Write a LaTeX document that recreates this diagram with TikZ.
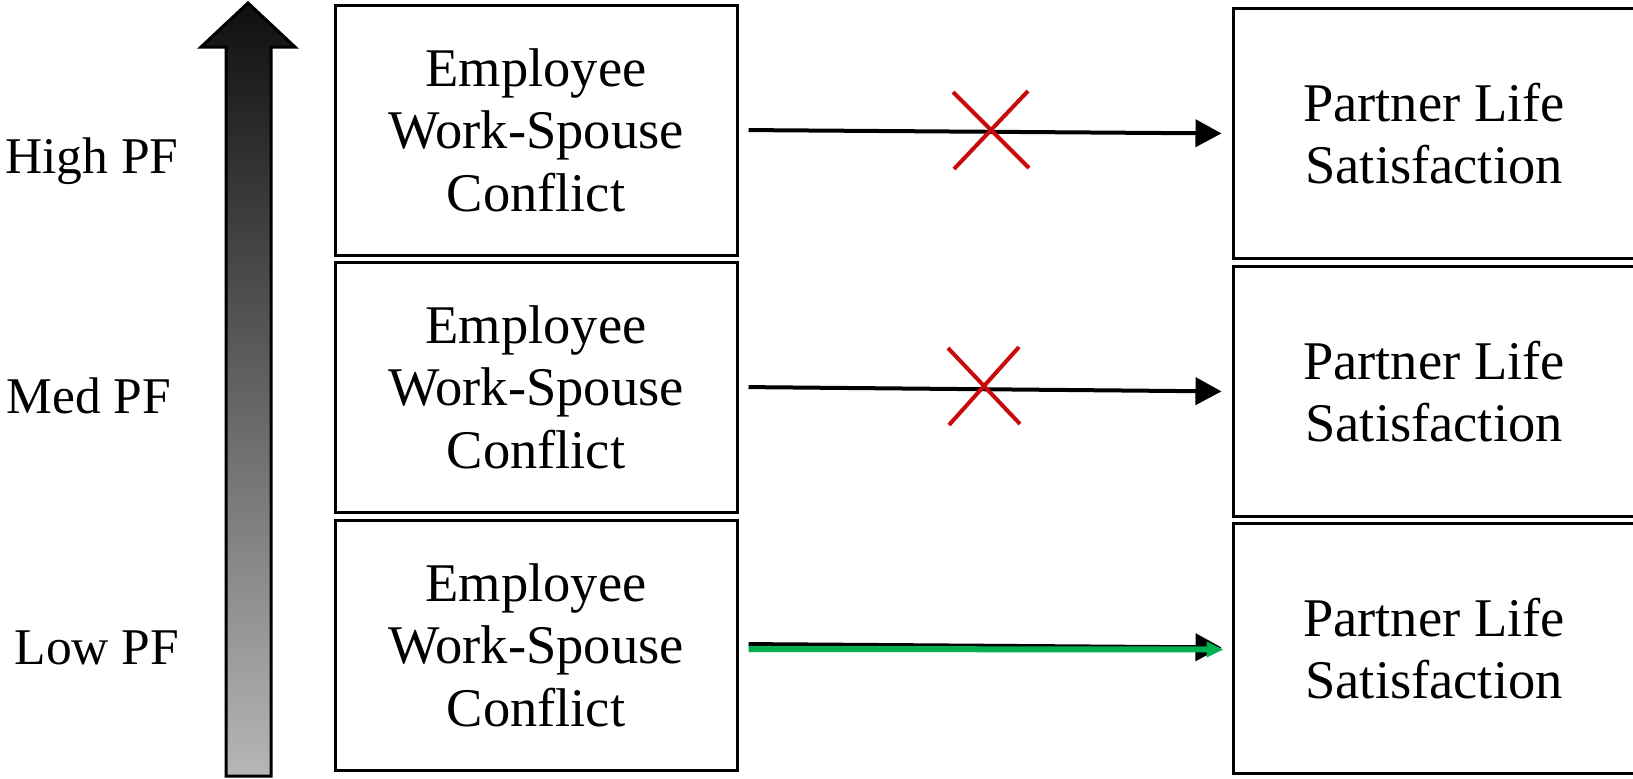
\documentclass[tikz,border=0pt]{standalone}
\usepackage{fontspec}
\setmainfont{Liberation Serif}
\usetikzlibrary{arrows.meta}
\definecolor{xred}{RGB}{200,10,10}
\definecolor{xgreen}{RGB}{0,176,80}
\definecolor{gtop}{RGB}{15,15,15}
\definecolor{gbot}{RGB}{182,182,182}
\begin{document}
\begin{tikzpicture}[x=1pt,y=-1pt,
  bigfont/.style={font=\fontsize{54.5}{62.5}\selectfont},
  varbox/.style={draw, line width=3pt, minimum width=402pt, minimum height=250pt, inner sep=0pt, align=center, bigfont},
  lvl/.style={inner sep=0pt, font=\fontsize{51.5}{60}\selectfont},
  link/.style={line width=4pt, -{Triangle[length=26pt,width=27pt]}, shorten <=10pt, shorten >=10pt},
  glink/.style={line width=6pt, draw=xgreen, -{Triangle[length=17pt,width=15pt,fill=xgreen]}, shorten <=10pt, shorten >=8pt},
  nox/.style={draw=xred, line width=4pt}
]
\useasboundingbox (0,0) rectangle (1633,779);
\clip (0,0) rectangle (1633,779);
\fill[white] (0,0) rectangle (1633,779);

% shaded level arrow
\shade[top color=gtop, bottom color=gbot, draw=black, line width=3pt, line join=miter]
  (226,776) -- (226,47) -- (201,47) -- (248,3) -- (295,47) -- (271,47) -- (271,776) -- cycle;

% level labels
\node[lvl] (hi) at (92,161) {High PF};
\node[lvl] (md) at (89,396) {Med PF};
\node[lvl] (lo) at (97,648) {Low PF};

% left boxes
\node[varbox] (L1) at (536,130) {Employee\\Work-Spouse\\Conflict};
\node[varbox] (L2) at (536,387) {Employee\\Work-Spouse\\Conflict};
\node[varbox] (L3) at (536,645) {Employee\\Work-Spouse\\Conflict};

% right boxes
\node[varbox] (R1) at (1434,133.5) {Partner Life\\Satisfaction};
\node[varbox] (R2) at (1434,391.5) {Partner Life\\Satisfaction};
\node[varbox] (R3) at (1434,648.5) {Partner Life\\Satisfaction};

% connectors
\draw[link] (L1.east) -- (R1.west);
\draw[link] (L2.east) -- (R2.west);
\draw[link] ([yshift=1pt]L3.east) -- ([yshift=1pt]R3.west);
\draw[glink] ([yshift=-4pt]L3.east) -- ([yshift=-1pt]R3.west);

% crosses
\coordinate (X1) at (991,130);
\coordinate (X2) at (984,386);
\draw[nox] (X1) ++(-38,-38) -- ++(76,76);
\draw[nox] (X1) ++(37,-39) -- ++(-74,78);
\draw[nox] (X2) ++(-36,-38) -- ++(72,76);
\draw[nox] (X2) ++(35,-39) -- ++(-70,78);
\end{tikzpicture}
\end{document}
